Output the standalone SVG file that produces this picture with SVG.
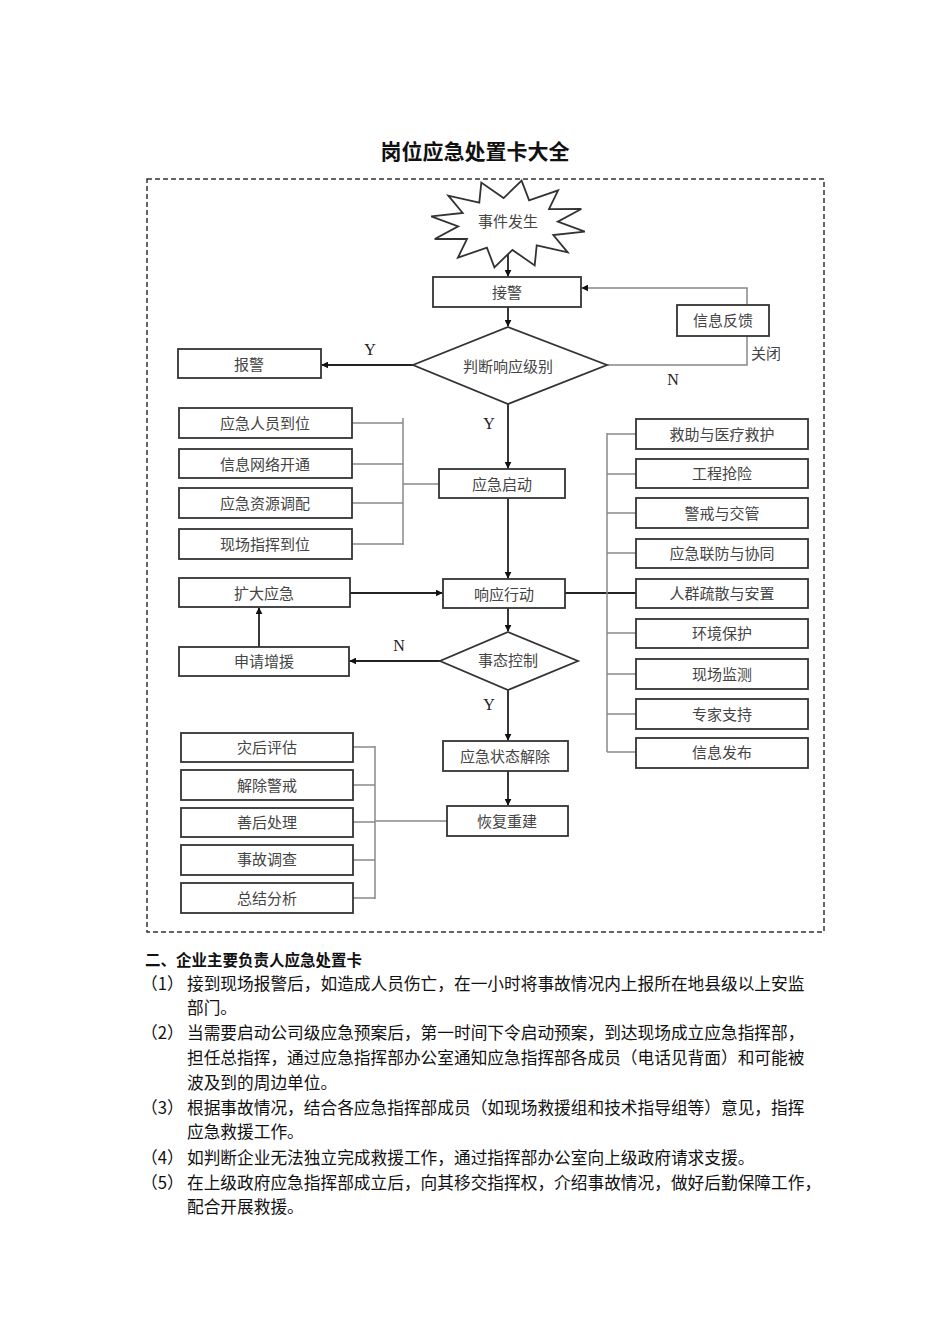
<svg xmlns="http://www.w3.org/2000/svg" width="950" height="1344" viewBox="0 0 950 1344">
<style>
.box{fill:#fff;stroke:#333;stroke-width:1.8}
.t{font-family:"Noto Sans CJK SC","Noto Sans",sans-serif;font-size:15px;fill:#444;text-anchor:middle;dominant-baseline:central}
.yn{font-family:"Liberation Serif",serif;font-size:16px;fill:#222;text-anchor:middle;dominant-baseline:central}
.ar{fill:none;stroke:#222;stroke-width:1.8}
.gl{fill:none;stroke:#888;stroke-width:1.5}
.p{font-family:"Noto Sans CJK SC","Noto Sans",sans-serif;font-size:16.7px;fill:#111}
</style>
<defs>
<marker id="ah" viewBox="0 0 10 10" refX="9" refY="5" markerWidth="7" markerHeight="7" markerUnits="userSpaceOnUse" orient="auto"><path d="M0,0 L10,5 L0,10 z" fill="#111"/></marker>
</defs>
<rect width="950" height="1344" fill="#fff"/>
<text x="475" y="150" style="font-family:'Noto Sans CJK SC',sans-serif;font-size:21px;font-weight:bold;fill:#111;text-anchor:middle;dominant-baseline:central">岗位应急处置卡大全</text>
<rect x="147" y="179" width="677" height="753" fill="none" stroke="#333" stroke-width="1.5" stroke-dasharray="5,3"/>

<g id="connectors">
<line class="ar" x1="508" y1="250" x2="508" y2="276" marker-end="url(#ah)"/>
<line class="ar" x1="508" y1="307" x2="508" y2="326" marker-end="url(#ah)"/>
<line class="ar" x1="413" y1="365" x2="322" y2="365" marker-end="url(#ah)"/>
<polyline class="gl" points="607,365 747,365 747,336"/>
<polyline class="gl" points="747,305 747,288 582,288" marker-end="url(#ah)"/>
<line class="ar" x1="508" y1="404" x2="508" y2="468" marker-end="url(#ah)"/>
<polyline class="gl" points="352,423 403,423"/>
<polyline class="gl" points="352,464 403,464"/>
<polyline class="gl" points="352,503 403,503"/>
<polyline class="gl" points="352,544 403,544"/>
<polyline class="gl" points="403,418 403,545"/>
<polyline class="gl" points="403,484 439,484"/>
<line class="ar" x1="508" y1="498" x2="508" y2="578" marker-end="url(#ah)"/>
<line class="ar" x1="350" y1="593" x2="442" y2="593" marker-end="url(#ah)"/>
<line class="ar" x1="259" y1="647" x2="259" y2="608" marker-end="url(#ah)"/>
<line class="ar" x1="565" y1="593" x2="636" y2="593"/>
<polyline class="gl" points="607,433 607,752"/>
<polyline class="gl" points="607,434 636,434"/>
<polyline class="gl" points="607,474 636,474"/>
<polyline class="gl" points="607,513 636,513"/>
<polyline class="gl" points="607,553 636,553"/>
<polyline class="gl" points="607,633 636,633"/>
<polyline class="gl" points="607,674 636,674"/>
<polyline class="gl" points="607,714 636,714"/>
<polyline class="gl" points="607,752 636,752"/>
<line class="ar" x1="508" y1="608" x2="508" y2="631" marker-end="url(#ah)"/>
<line class="ar" x1="440" y1="661" x2="350" y2="661" marker-end="url(#ah)"/>
<line class="ar" x1="508" y1="690" x2="508" y2="740" marker-end="url(#ah)"/>
<line class="ar" x1="508" y1="771" x2="508" y2="805" marker-end="url(#ah)"/>
<polyline class="gl" points="353,747 375,747"/>
<polyline class="gl" points="353,785 375,785"/>
<polyline class="gl" points="353,822 375,822"/>
<polyline class="gl" points="353,860 375,860"/>
<polyline class="gl" points="353,898 375,898"/>
<polyline class="gl" points="375,746 375,899"/>
<polyline class="gl" points="375,821 447,821"/>
<text class="yn" x="370" y="349">Y</text>
<text class="yn" x="673" y="379">N</text>
<text class="t" x="766" y="352">关闭</text>
<text class="yn" x="489" y="423">Y</text>
<text class="yn" x="399" y="645">N</text>
<text class="yn" x="489" y="704">Y</text>
</g>

<g id="start"><polygon class="box" points="584.8,231.6 553.3,235 567.7,252.3 536.7,245.3 534.7,265.4 512.4,249.9 494.4,267.3 486.9,247.6 457.9,257.7 467,238.9 434.7,239 458.2,226.3 431.2,216.4 462.7,213 448.3,195.7 479.3,202.7 481.3,182.6 503.6,198.1 521.6,180.7 529.1,200.4 558.1,190.3 549,209.1 581.3,209 557.8,221.7"/><text class="t" x="508" y="220">事件发生</text></g>
<g id="jiejing"><rect class="box" x="433" y="277" width="148" height="30"/><text class="t" x="507" y="291">接警</text></g>
<g id="panduan"><polygon class="box" points="508,327 607,365 508,404 413,365"/><text class="t" x="508" y="365">判断响应级别</text></g>
<g id="xinxifankui"><rect class="box" x="677" y="305" width="92" height="31"/><text class="t" x="723" y="319">信息反馈</text></g>
<g id="baojing"><rect class="box" x="178" y="349" width="143" height="29"/><text class="t" x="249" y="363">报警</text></g>
<g id="qidong"><rect class="box" x="439" y="469" width="126" height="29"/><text class="t" x="502" y="483">应急启动</text></g>
<g id="l1"><rect class="box" x="179" y="408" width="173" height="30"/><text class="t" x="265" y="422">应急人员到位</text></g>
<g id="l2"><rect class="box" x="179" y="449" width="173" height="29"/><text class="t" x="265" y="463">信息网络开通</text></g>
<g id="l3"><rect class="box" x="179" y="488" width="173" height="30"/><text class="t" x="265" y="502">应急资源调配</text></g>
<g id="l4"><rect class="box" x="179" y="529" width="173" height="30"/><text class="t" x="265" y="543">现场指挥到位</text></g>
<g id="xiangying"><rect class="box" x="443" y="579" width="122" height="29"/><text class="t" x="504" y="593">响应行动</text></g>
<g id="kuoda"><rect class="box" x="179" y="578" width="171" height="29"/><text class="t" x="264" y="592">扩大应急</text></g>
<g id="shenqing"><rect class="box" x="179" y="647" width="170" height="29"/><text class="t" x="264" y="660">申请增援</text></g>
<g id="shitai"><polygon class="box" points="508,632 578,661 508,690 440,661"/><text class="t" x="508" y="659">事态控制</text></g>
<g id="jiechu"><rect class="box" x="443" y="741" width="125" height="30"/><text class="t" x="505" y="755">应急状态解除</text></g>
<g id="huifu"><rect class="box" x="447" y="806" width="121" height="30"/><text class="t" x="507" y="820">恢复重建</text></g>
<g id="b1"><rect class="box" x="181" y="733" width="172" height="29"/><text class="t" x="267" y="746">灾后评估</text></g>
<g id="b2"><rect class="box" x="181" y="770" width="172" height="30"/><text class="t" x="267" y="784">解除警戒</text></g>
<g id="b3"><rect class="box" x="181" y="808" width="172" height="29"/><text class="t" x="267" y="821">善后处理</text></g>
<g id="b4"><rect class="box" x="181" y="845" width="172" height="30"/><text class="t" x="267" y="858">事故调查</text></g>
<g id="b5"><rect class="box" x="181" y="883" width="172" height="30"/><text class="t" x="267" y="897">总结分析</text></g>
<g id="r1"><rect class="box" x="636" y="419" width="172" height="30"/><text class="t" x="722" y="433">救助与医疗救护</text></g>
<g id="r2"><rect class="box" x="636" y="459" width="172" height="29"/><text class="t" x="722" y="472">工程抢险</text></g>
<g id="r3"><rect class="box" x="636" y="498" width="172" height="30"/><text class="t" x="722" y="512">警戒与交管</text></g>
<g id="r4"><rect class="box" x="636" y="539" width="172" height="29"/><text class="t" x="722" y="552">应急联防与协同</text></g>
<g id="r5"><rect class="box" x="636" y="579" width="172" height="29"/><text class="t" x="722" y="592">人群疏散与安置</text></g>
<g id="r6"><rect class="box" x="636" y="619" width="172" height="29"/><text class="t" x="722" y="632">环境保护</text></g>
<g id="r7"><rect class="box" x="636" y="659" width="172" height="30"/><text class="t" x="722" y="673">现场监测</text></g>
<g id="r8"><rect class="box" x="636" y="699" width="172" height="30"/><text class="t" x="722" y="713">专家支持</text></g>
<g id="r9"><rect class="box" x="636" y="738" width="172" height="30"/><text class="t" x="722" y="751">信息发布</text></g>

<g id="textsection">
<text x="145" y="966" style="font-family:'Noto Sans CJK SC',sans-serif;font-size:15.5px;font-weight:bold;fill:#111">二、企业主要负责人应急处置卡</text>
<text class="p" x="141" y="990">（1）</text><text class="p" x="187" y="990">接到现场报警后，如造成人员伤亡，在一小时将事故情况内上报所在地县级以上安监</text>
<text class="p" x="187" y="1014">部门。</text>
<text class="p" x="141" y="1039">（2）</text><text class="p" x="187" y="1039">当需要启动公司级应急预案后，第一时间下令启动预案，到达现场成立应急指挥部，</text>
<text class="p" x="187" y="1064">担任总指挥，通过应急指挥部办公室通知应急指挥部各成员（电话见背面）和可能被</text>
<text class="p" x="187" y="1089">波及到的周边单位。</text>
<text class="p" x="141" y="1114">（3）</text><text class="p" x="187" y="1114">根据事故情况，结合各应急指挥部成员（如现场救援组和技术指导组等）意见，指挥</text>
<text class="p" x="187" y="1138">应急救援工作。</text>
<text class="p" x="141" y="1164">（4）</text><text class="p" x="187" y="1164">如判断企业无法独立完成救援工作，通过指挥部办公室向上级政府请求支援。</text>
<text class="p" x="141" y="1189">（5）</text><text class="p" x="187" y="1189">在上级政府应急指挥部成立后，向其移交指挥权，介绍事故情况，做好后勤保障工作，</text>
<text class="p" x="187" y="1213">配合开展救援。</text>
</g>
</svg>
